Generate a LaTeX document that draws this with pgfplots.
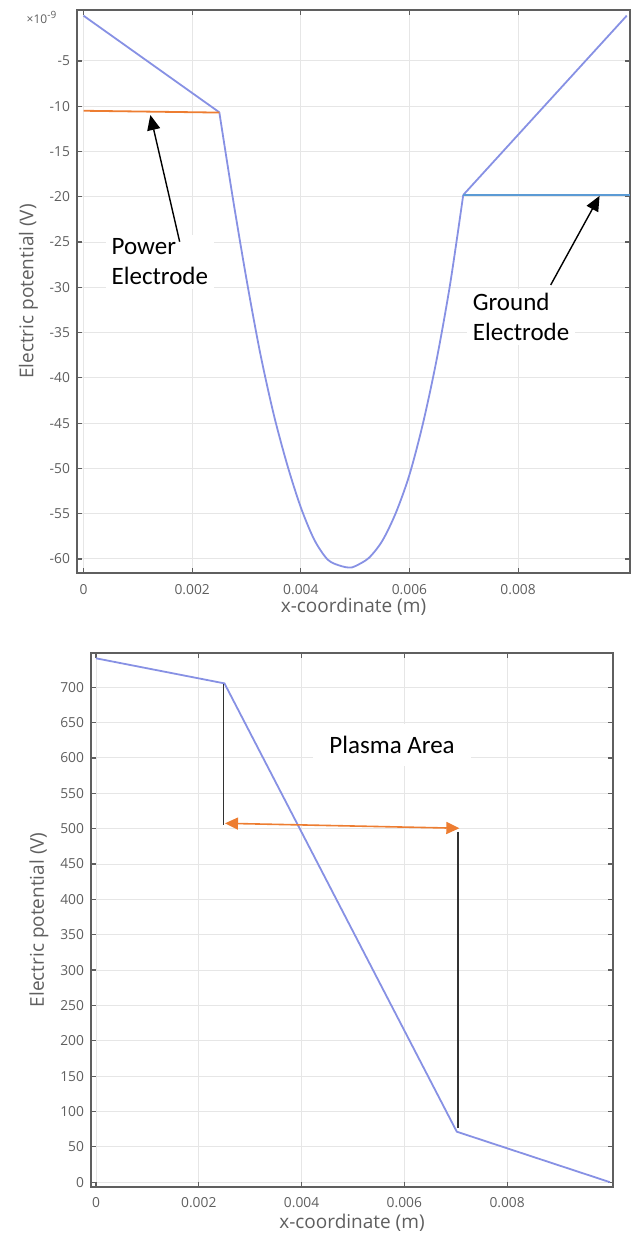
\documentclass[border=0pt]{standalone}
\usepackage{pgfplots}
\pgfplotsset{compat=1.18}
\usepackage{fontspec}
\setmainfont{Open Sans}
\newfontfamily\annfont{Carlito}
\usetikzlibrary{arrows.meta}
\definecolor{curve}{RGB}{135,145,228}
\definecolor{eorange}{RGB}{237,125,49}
\definecolor{eblue}{RGB}{91,155,213}
\definecolor{axgray}{RGB}{95,95,95}
\definecolor{txtgray}{RGB}{95,95,95}
\definecolor{gridgray}{RGB}{230,230,230}
\definecolor{vlinecol}{RGB}{50,50,50}

\pgfplotsset{
  myax/.style={
    scale only axis, anchor=south west,
    axis line style={draw=axgray, line width=0.9pt},
    tick style={draw=axgray, line width=0.6pt},
    tick align=inside,
    major tick length=2.5pt,
    grid=major,
    major grid style={draw=gridgray, line width=0.5pt},
    ticklabel style={font=\fontsize{6.9}{8}\selectfont, text=txtgray},
    xticklabel style={yshift=-2pt},
    label style={font=\fontsize{9.5}{11}\selectfont, text=txtgray},
    /pgf/number format/assume math mode=true,
    scaled ticks=false,
    xtick={0,0.002,0.004,0.006,0.008},
    xticklabels={0,0.002,0.004,0.006,0.008},
    xlabel={x-coordinate (m)},
    ylabel={Electric potential (V)},
    clip mode=individual,
  }
}

\begin{document}
\begin{tikzpicture}
\useasboundingbox (0,0) rectangle (316.5pt,618pt);

% ---------- top plot ----------
\begin{axis}[myax, at={(38.5pt,331.5pt)}, width=276.5pt, height=281.5pt,
  xmin=-0.00012, xmax=0.01006, ymin=-61.55, ymax=0.63,
  ytick={-60,-55,-50,-45,-40,-35,-30,-25,-20,-15,-10,-5},
  yticklabels={-60,-55,-50,-45,-40,-35,-30,-25,-20,-15,-10,-5},
  xlabel shift=-5pt, ylabel shift=-1pt]
\addplot[curve, line width=0.9pt] coordinates {
 (0,0) (0.0025,-10.67)};
\addplot[curve, line width=0.9pt, smooth, tension=0.5] coordinates {
 (0.0025,-10.67) (0.00275,-20.2) (0.003,-29.1) (0.00325,-37.2)
 (0.0035,-44.0) (0.00375,-49.6) (0.004,-54.3) (0.00425,-57.9)
 (0.0045,-60.1) (0.00475,-60.8) (0.0049,-60.95) (0.005,-60.8)
 (0.00525,-59.9) (0.0055,-58.0) (0.00575,-54.9) (0.006,-50.7)
 (0.00625,-45.0) (0.0065,-38.0) (0.00675,-29.6) (0.00699,-19.8)};
\addplot[curve, line width=0.9pt] coordinates {
 (0.00699,-19.8) (0.01,0)};
\addplot[eorange, line width=0.9pt] coordinates {(0,-10.5) (0.0025,-10.7)};
\addplot[eblue, line width=0.9pt] coordinates {(0.00699,-19.8) (0.01006,-19.8)};

\node[fill=white, anchor=west, align=left, inner xsep=3pt, inner ysep=2pt,
  font=\annfont\fontsize{12.5}{15}\selectfont]
  at (axis cs:0.00040,-27.2) {Power\\Electrode};
\node[fill=white, anchor=west, align=left, inner xsep=3pt, inner ysep=2pt,
  font=\annfont\fontsize{12.5}{15}\selectfont]
  at (axis cs:0.00705,-33.3) {Ground\\Electrode};
\draw[black, line width=0.7pt, -{Triangle[length=7.5pt,width=6.5pt]}]
  (axis cs:0.00177,-24.96) -- (axis cs:0.00123,-10.97);
\draw[black, line width=0.7pt, -{Triangle[length=7.5pt,width=6.5pt]}]
  (axis cs:0.0086,-29.74) -- (axis cs:0.0095,-19.9);
\end{axis}
\node[text=txtgray, font=\fontsize{6}{7}\selectfont] at (21pt,609.5pt) {×10\textsuperscript{-9}};

% ---------- bottom plot ----------
\begin{axis}[myax, at={(45.5pt,24.65pt)}, width=261pt, height=266.85pt,
  xmin=-0.0000973, xmax=0.01006, ymin=-6.4, ymax=748.5,
  ytick={0,50,100,150,200,250,300,350,400,450,500,550,600,650,700},
  yticklabels={0,50,100,150,200,250,300,350,400,450,500,550,600,650,700},
  xlabel shift=-4pt, ylabel shift=-1pt]
\addplot[curve, line width=0.9pt] coordinates {
 (0,741) (0.0025,705.5) (0.00702,71.4) (0.01,0)};
\node[fill=white, inner xsep=8pt, inner ysep=6pt,
  font=\annfont\fontsize{12.5}{15}\selectfont]
  at (axis cs:0.00576,618) {Plasma Area};
\addplot[vlinecol, line width=0.9pt] coordinates {(0.00248,705) (0.00248,505)};
\addplot[vlinecol, line width=0.9pt] coordinates {(0.00705,496) (0.00705,76)};
\draw[eorange, line width=0.8pt, {Triangle[length=6.5pt,width=6pt]}-{Triangle[length=6.5pt,width=6pt]}]
  (axis cs:0.00251,507.6) -- (axis cs:0.00707,500.6);
\end{axis}
\end{tikzpicture}
\end{document}
